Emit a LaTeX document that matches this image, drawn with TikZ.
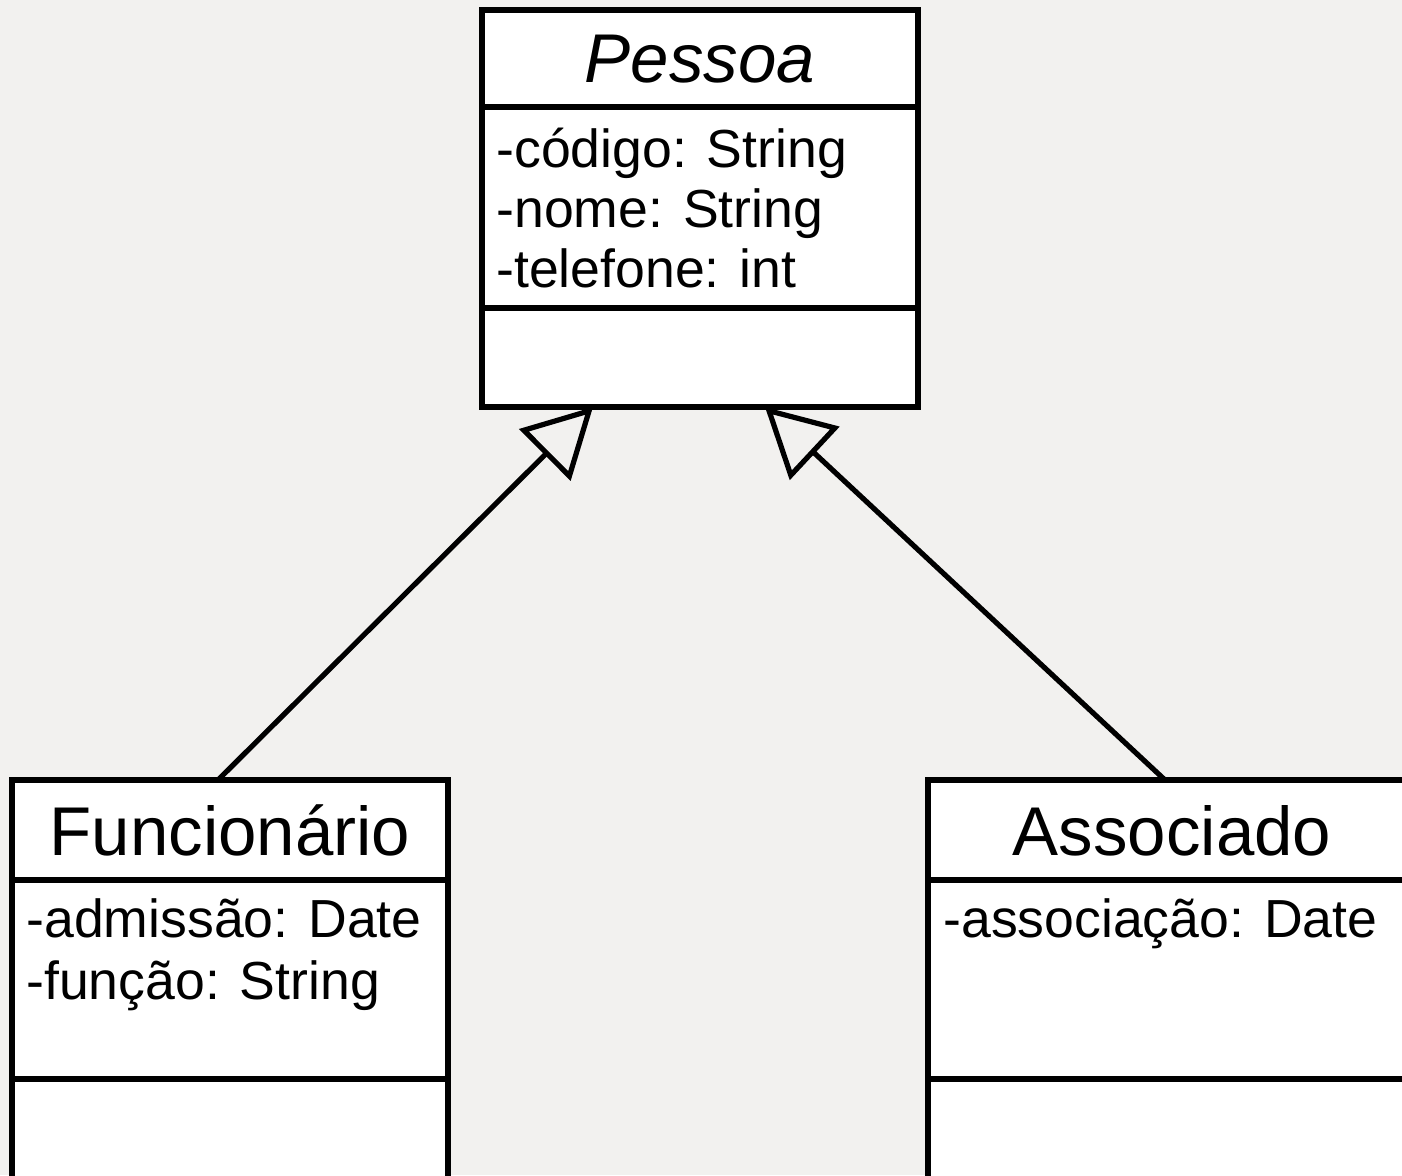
\documentclass[tikz,border=0pt]{standalone}
\usepackage{fontspec}
\setmainfont{Liberation Sans}
\usetikzlibrary{arrows.meta,calc}
\definecolor{bg}{HTML}{F2F1EF}
\tikzset{
  classbox/.style={draw=black, fill=white, line width=2.8pt, inner sep=0pt, outer sep=0pt, anchor=north west, rectangle},
  divider/.style={draw=black, line width=2.8pt},
  title/.style={anchor=base, inner sep=0pt, font=\fontsize{34.5}{40}\selectfont},
  attr/.style={anchor=base west, inner sep=0pt, font=\fontsize{26.8}{30}\selectfont},
  inherit/.style={draw=black, line width=2.6pt, -{Triangle[open, length=34pt, width=36pt]}}
}
\begin{document}
\begin{tikzpicture}[x=0.5pt, y=-0.5pt]
\fill[bg] (0,0) rectangle (1402,1175);
\useasboundingbox (0,0) rectangle (1402,1175);
\clip (0,0) rectangle (1402,1175);
% Pessoa
\node[classbox, minimum width=218pt, minimum height=198.5pt] (pes) at (482,10) {};
\draw[divider] (482,107) -- (918,107);
\draw[divider] (482,308) -- (918,308);
\node[title, font=\fontsize{34.5}{40}\selectfont\itshape] (pest) at (700,82) {Pessoa};
\node[attr] (pa1) at (496,167) {-código: String};
\node[attr] (pa2) at (496,227) {-nome: String};
\node[attr] (pa3) at (496,287) {-telefone: int};
% Funcionario
\node[classbox, minimum width=218pt, minimum height=250pt] (fun) at (12,780) {};
\draw[divider] (12,880) -- (448,880);
\draw[divider] (12,1079) -- (448,1079);
\node[title] (funt) at (230,855) {Funcionário};
\node[attr] (fa1) at (26,937) {-admissão: Date};
\node[attr] (fa2) at (26,999) {-função: String};
% Associado
\node[classbox, minimum width=244pt, minimum height=250pt] (asc) at (928,780) {};
\draw[divider] (928,880) -- (1416,880);
\draw[divider] (928,1079) -- (1416,1079);
\node[title] (asct) at (1172,855) {Associado};
\node[attr] (aa1) at (943,937) {-associação: Date};
% Inheritance
\draw[inherit] ([xshift=-6pt]fun.north) -- ([xshift=-53.5pt]pes.south);
\draw[inherit] ([xshift=-3.5pt]asc.north) -- ([xshift=32.5pt]pes.south);
\end{tikzpicture}
\end{document}
